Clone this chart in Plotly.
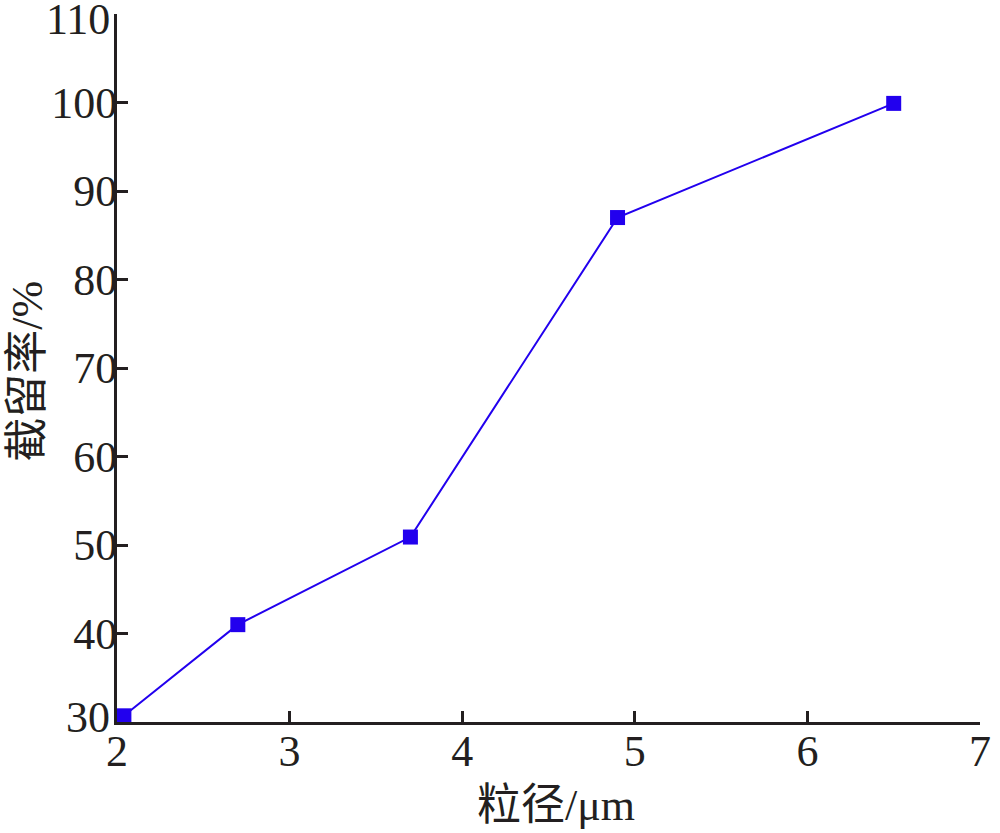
import plotly.graph_objects as go

particle_size = [2.04, 2.7, 3.7, 4.9, 6.5]
retention = [30.7, 41.0, 50.9, 87.0, 99.9]
x_ticks = [2, 3, 4, 5, 6, 7]
y_ticks = [30, 40, 50, 60, 70, 80, 90, 100, 110]
x_title = "粒径/μm"
y_title = "截留率/%"

FONT = "Liberation Serif, Times New Roman, Noto Sans CJK SC, serif"
BLUE = "#2200ee"
INK = "#231f20"

fig = go.Figure()
fig.add_trace(go.Scatter(
    x=particle_size, y=retention, mode="lines+markers",
    line=dict(color=BLUE, width=2),
    marker=dict(symbol="square", size=15, color=BLUE),
    cliponaxis=False, showlegend=False,
))

axis_common = dict(
    showgrid=False, zeroline=False, showline=True, linecolor=INK, linewidth=3,
    ticks="inside", ticklen=11, tickwidth=3, tickcolor=INK,
    tickfont=dict(family=FONT, size=44, color=INK),
    mirror=False, automargin=False, ticklabeloverflow="allow",
)

# the end labels of the y axis sit nudged inward, as in the original
edge_ticks = {y_ticks[0]: 5, y_ticks[-1]: -5}
y_ticktext = ["" if v in edge_ticks else str(v) for v in y_ticks]

annotations = [
    dict(text=x_title, xref="paper", yref="paper", x=0.5085, y=-0.118,
         xanchor="center", yanchor="middle", showarrow=False,
         font=dict(family=FONT, size=44, color=INK)),
    dict(text=y_title, xref="paper", yref="paper", x=-0.104, y=0.495,
         xanchor="center", yanchor="middle", showarrow=False, textangle=-90,
         font=dict(family=FONT, size=44, color=INK)),
]
for v, shift in edge_ticks.items():
    annotations.append(dict(
        text=str(v), xref="paper", yref="y", x=0, y=v, xanchor="right", yanchor="middle",
        xshift=-6, yshift=shift, showarrow=False, borderpad=0,
        font=dict(family=FONT, size=44, color=INK)))

fig.update_layout(
    width=1000, height=833,
    margin=dict(l=117, r=20, t=14, b=111),
    paper_bgcolor="white", plot_bgcolor="white",
    xaxis=dict(range=[2, 7], tickvals=x_ticks, ticklabelstandoff=-12, **axis_common),
    yaxis=dict(range=[30, 110], tickvals=y_ticks, ticktext=y_ticktext,
               ticklabelstandoff=-12, **axis_common),
    annotations=annotations,
)

fig.write_html("out.html", config={"displayModeBar": False},
               post_script="document.body.style.margin='0';")
